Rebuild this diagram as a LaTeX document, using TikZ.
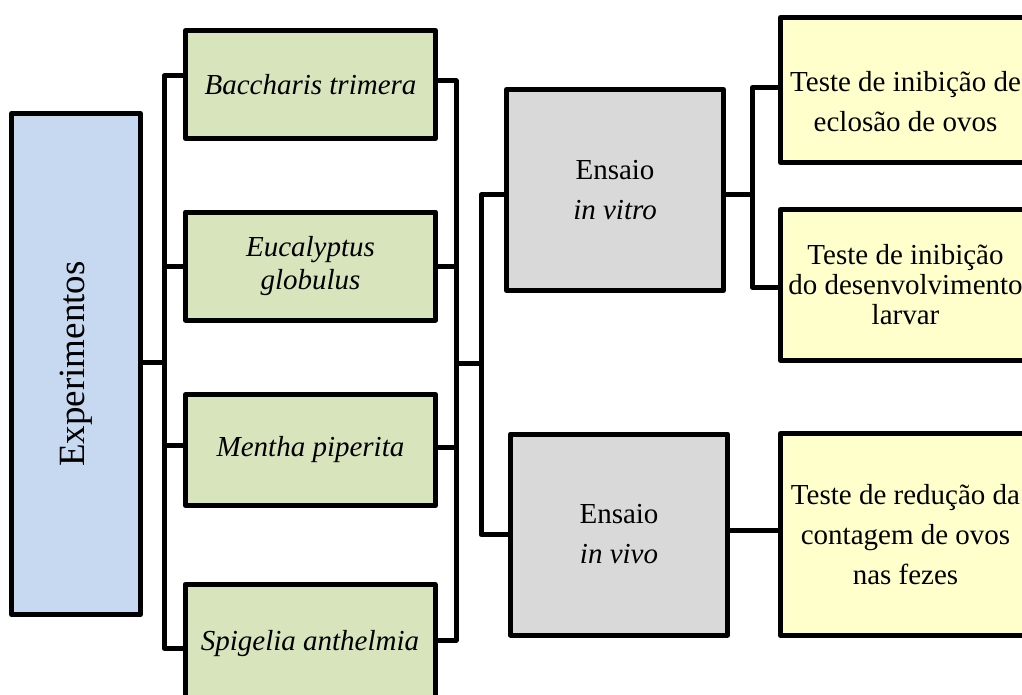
\documentclass[tikz,border=0pt]{standalone}
\usepackage{fontspec}
\setmainfont{Liberation Serif}
\usepackage{graphicx}
\usepackage{tikz}
\usetikzlibrary{shapes}
\definecolor{expblue}{RGB}{198,217,240}
\definecolor{plantgreen}{RGB}{215,228,188}
\definecolor{assaygray}{RGB}{217,217,217}
\definecolor{testyellow}{RGB}{255,255,204}
\tikzset{%
  % Specifications for style of nodes:
            base/.style = {rectangle, draw=black, line width=5pt, line join=round,
                           text centered, font=\fontsize{29pt}{40pt}\selectfont},
      experiment/.style = {base, fill=expblue, minimum width=129pt, minimum height=501pt,
                           font=\fontsize{37pt}{44pt}\selectfont},
           plant/.style = {base, fill=plantgreen, minimum width=250pt, minimum height=108pt,
                           font=\fontsize{29pt}{33pt}\selectfont\itshape},
           assay/.style = {base, fill=assaygray, minimum width=217pt, minimum height=201pt},
         testbox/.style = {base, fill=testyellow, minimum width=250pt, inner xsep=0pt},
            link/.style = {draw=black, line width=5pt, line join=round},
}
\begin{document}
\begin{tikzpicture}[x=1pt, y=-1pt, align=center]
                    \useasboundingbox (0,0) rectangle (1022,695);
                    \node (expts)      [experiment]                        at (76,364)     {\rotatebox{90}{Experimentos}};
                    \node (baccharis)  [plant]                             at (310.5,84.5) {Baccharis trimera};
                    \node (eucalyptus) [plant]                             at (310.5,266)  {Eucalyptus\\globulus};
                    \node (mentha)     [plant, minimum height=111pt]       at (310.5,450)  {Mentha piperita};
                    \node (spigelia)   [plant, minimum height=118pt]       at (310,643.5)  {Spigelia anthelmia};
                    \node (invitro)    [assay]                             at (615,190)    {Ensaio\\\textit{in vitro}};
                    \node (invivo)     [assay]                             at (619,534.5)  {Ensaio\\\textit{in vivo}};
                    \node (testA)      [testbox, minimum height=145pt]     at (905.5,90)   {\rule{0pt}{44pt}Teste de inibição de\\eclosão de ovos};
                    \node (testB)      [testbox, minimum height=151pt,
                                        font=\fontsize{29pt}{30pt}\selectfont] at (905.5,285) {Teste de inibição\\do desenvolvimento\\larvar};
                    \node (testC)      [testbox, minimum height=202pt]     at (905.5,534.5) {Teste de redução da\\contagem de ovos\\nas fezes};

                    \coordinate (lspine) at (164,362);
                    \coordinate (rspine) at (456,363);
                    \coordinate (aspine) at (481,363);
                    \coordinate (tspine) at (752,195);

                    \draw[link] (expts.east |- lspine) -- (lspine);
                    \draw[link] ([yshift=8.5pt]baccharis.west) -| (lspine) |- ([yshift=-4.5pt]spigelia.west);
                    \draw[link] (eucalyptus.west) -- (eucalyptus.west -| lspine);
                    \draw[link] ([yshift=5pt]mentha.west) -- ([yshift=5pt]mentha.west -| lspine);
                    \draw[link] ([yshift=3.5pt]baccharis.east) -| (rspine) |- ([yshift=3.5pt]spigelia.east);
                    \draw[link] (eucalyptus.east) -- (eucalyptus.east -| rspine);
                    \draw[link] ([yshift=3pt]mentha.east) -- ([yshift=3pt]mentha.east -| rspine);
                    \draw[link] (rspine) -- (aspine);
                    \draw[link] ([yshift=-5pt]invitro.west) -| (aspine) |- (invivo.west);
                    \draw[link] ([yshift=-5pt]invitro.east) -- (tspine);
                    \draw[link] ([yshift=2pt]testA.west) -| (tspine) |- ([yshift=-2pt]testB.west);
                    \draw[link] ([yshift=4pt]invivo.east) -- ([yshift=4pt]testC.west);
                \end{tikzpicture}
\end{document}
